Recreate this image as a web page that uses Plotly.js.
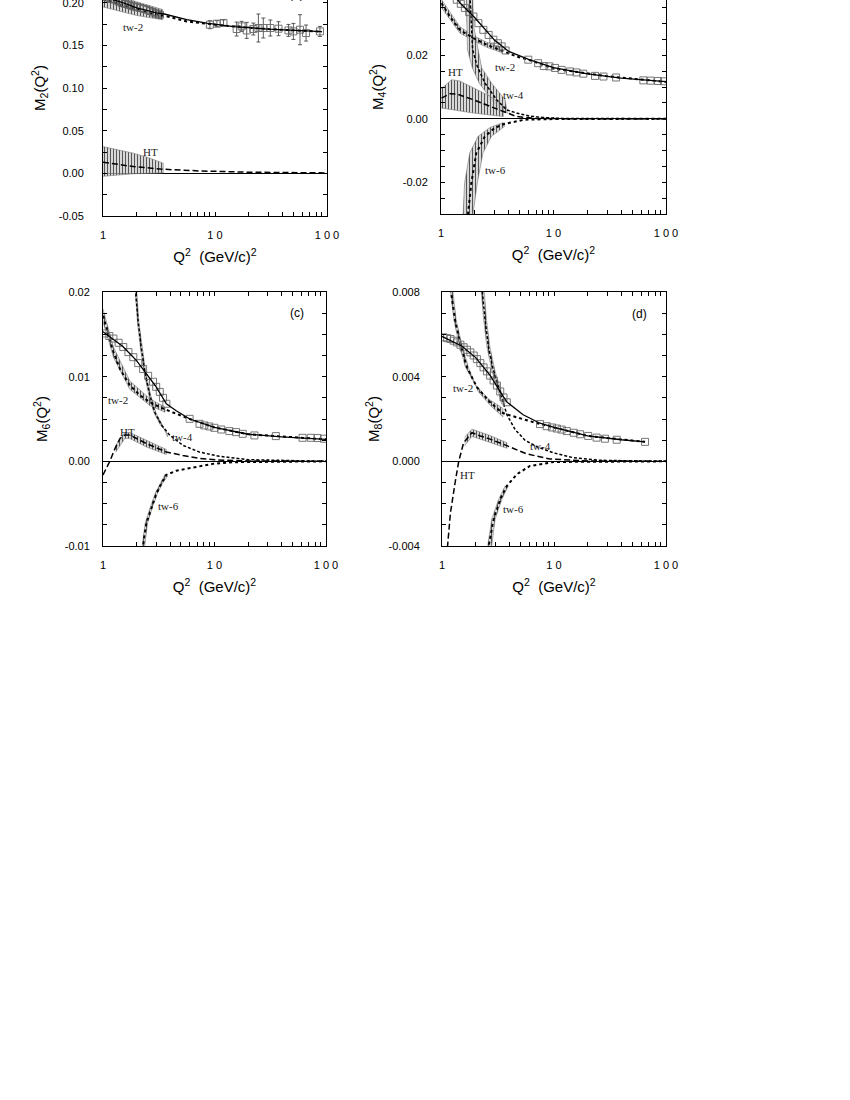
<!DOCTYPE html>
<html>
<head>
<meta charset="utf-8">
<script src="https://cdn.plot.ly/plotly-3.0.1.min.js"></script>
<style>
  html, body { margin: 0; padding: 0; background: #fff; overflow: hidden; }
  #fig { position: absolute; left: 0; top: -40px; width: 850px; height: 1140px; }
</style>
</head>
<body>
<div id="fig"></div>
<script>
// ---- axis ticks (blank text = unlabelled tick) ----
var qTicks = [1, 2, 3, 4, 5, 6, 7, 8, 9, 10, 20, 30, 40, 50, 60, 70, 80, 90, 100];
var qTickText = ['1', '', '', '', '', '', '', '', '', '1 0', '', '', '', '', '', '', '', '', '1 0 0'];
var aTicks = [-0.05, -0.025, 0, 0.025, 0.05, 0.075, 0.10, 0.125, 0.15, 0.175, 0.20, 0.225, 0.25];
var aTickText = ['-0.05', '', '0.00', '', '0.05', '', '0.10', '', '0.15', '', '0.20', '', '0.25'];
var bTicks = [-0.03, -0.025, -0.02, -0.015, -0.01, -0.005, 0, 0.005, 0.01, 0.015, 0.02, 0.025, 0.03, 0.035, 0.04, 0.045, 0.05];
var bTickText = ['', '', '-0.02', '', '', '', '0.00', '', '', '', '0.02', '', '', '', '0.04', '', ''];
var cTicks = [-0.01, -0.0075, -0.005, -0.0025, 0, 0.0025, 0.005, 0.0075, 0.01, 0.0125, 0.015, 0.0175, 0.02];
var cTickText = ['-0.01', '', '', '', '0.00', '', '', '', '0.01', '', '', '', '0.02'];
var dTicks = [-0.004, -0.003, -0.002, -0.001, 0, 0.001, 0.002, 0.003, 0.004, 0.005, 0.006, 0.007, 0.008];
var dTickText = ['-0.004', '', '', '', '0.000', '', '', '', '0.004', '', '', '', '0.008'];

// ---- panel (a): M2 ----
var aSqX = [1.1, 1.18, 1.28, 1.37, 1.47, 1.57, 1.68, 1.77, 1.87, 2.0, 2.14, 2.3, 2.45, 2.62, 2.81, 3.0, 3.23,
            9.0, 10.4, 11.9, 15.6, 17.3, 19.2, 22.0, 24.4, 27.0, 31.2, 36.9, 45.3, 50.1, 57.4, 65.0, 86.5];
var aSqY = [0.206, 0.2045, 0.2035, 0.2015, 0.1997, 0.1987, 0.1977, 0.1967, 0.1957, 0.1948, 0.1938, 0.1928, 0.1918, 0.1902, 0.1886, 0.1872, 0.1859,
            0.1742, 0.1754, 0.1762, 0.1691, 0.1722, 0.1675, 0.1691, 0.1703, 0.1703, 0.1703, 0.1695, 0.1675, 0.1663, 0.1683, 0.1644, 0.1663];
var aSqErr = [0.004, 0.004, 0.004, 0.004, 0.004, 0.004, 0.004, 0.004, 0.004, 0.004, 0.004, 0.004, 0.004, 0.004, 0.004, 0.004, 0.004,
              0.0047, 0.0035, 0.0035, 0.0082, 0.0059, 0.0094, 0.007, 0.0164, 0.0117, 0.0094, 0.0082, 0.007, 0.0094, 0.0176, 0.0094, 0.0059];
var aTotX = [1, 1.5, 2, 3, 3.45, 5.6, 8.4, 14.6, 30, 60, 90];
var aTotY = [0.207, 0.200, 0.194, 0.188, 0.187, 0.180, 0.176, 0.172, 0.169, 0.167, 0.166];
var aTw2X = [1, 1.5, 2, 3, 3.7, 5.6, 8.0, 12, 30, 90];
var aTw2Y = [0.204, 0.197, 0.192, 0.186, 0.184, 0.178, 0.1755, 0.173, 0.169, 0.166];
var aTw2BandX = [1, 2, 3.4, 3.4, 2, 1];
var aTw2BandY = [0.214, 0.201, 0.192, 0.180, 0.185, 0.195];
var aHtX = [1.0, 1.87, 3.45, 7.3, 20.5, 57, 100];
var aHtY = [0.0130, 0.0079, 0.0048, 0.0028, 0.0013, 0.0008, 0.0005];
var aHtBandX = [1.0, 1.33, 1.87, 2.63, 3.45, 3.45, 1.87, 1.0];
var aHtBandY = [0.0313, 0.0275, 0.0236, 0.0177, 0.0119, 0.0005, -0.0005, -0.0035];

// ---- panel (b): M4 ----
var bSqX = [1.38, 1.5, 1.63, 1.78, 1.94, 2.15, 2.38, 2.65, 2.92, 3.2, 3.46, 3.75,
            5.97, 7.3, 8.2, 9.2, 10.3, 11.8, 14, 16, 18.4, 23.4, 27.8, 36, 62.9, 73, 85, 96];
var bSqY = [0.0375, 0.0362, 0.0349, 0.0336, 0.0322, 0.0301, 0.0280, 0.0264, 0.0249, 0.0238, 0.0228, 0.0215,
            0.0186, 0.0175, 0.0166, 0.0165, 0.016, 0.0154, 0.0149, 0.0146, 0.0142, 0.0135, 0.0133, 0.013, 0.0121, 0.012, 0.0119, 0.0118];
var bTotX = [1.3, 1.5, 2, 3, 4, 6, 10, 20, 40, 100];
var bTotY = [0.039, 0.0362, 0.0318, 0.0247, 0.0212, 0.0187, 0.0161, 0.0141, 0.0128, 0.0117];
var bTw2X = [1.01, 1.2, 1.47, 1.94, 2.55, 3.34, 4.7, 6.2, 10, 30, 100];
var bTw2Y = [0.0364, 0.0322, 0.028, 0.0254, 0.0233, 0.0217, 0.0196, 0.0184, 0.0158, 0.0134, 0.0116];
var bTw2BandX = [1.0, 1.47, 1.94, 2.55, 3.5, 3.5, 2.55, 1.94, 1.47, 1.0];
var bTw2BandY = [0.0378, 0.0290, 0.0262, 0.0241, 0.0224, 0.0208, 0.0225, 0.0246, 0.0270, 0.0352];
var bTw4X = [1.79, 1.81, 1.85, 1.91, 2.10, 2.46, 3.12, 3.84, 4.7, 6.2, 8, 12, 100];
var bTw4Y = [0.042, 0.0375, 0.0296, 0.0217, 0.0165, 0.0112, 0.006, 0.0028, 0.0018, 0.0008, 0.0004, 0.0001, 0];
var bTw4BandX = [1.66, 1.69, 1.72, 1.9, 2.19, 2.82, 3.5, 3.9, 3.71, 2.82, 2.3, 2.14, 1.94, 1.9];
var bTw4BandY = [0.045, 0.0296, 0.0217, 0.016, 0.0112, 0.006, 0.0023, 0.0018, 0.006, 0.0112, 0.016, 0.0217, 0.0296, 0.045];
var bHtX = [1.01, 1.2, 1.38, 1.94, 2.73, 3.58, 4.7, 7, 15, 100];
var bHtY = [0.0065, 0.0079, 0.0078, 0.006, 0.0039, 0.0023, 0.0007, 0.0001, 0, 0];
var bHtBandX = [1.0, 1.245, 1.47, 1.94, 2.73, 3.58, 3.58, 1.94, 1.29, 1.0];
var bHtBandY = [0.0094, 0.0123, 0.0119, 0.0097, 0.0071, 0.0039, 0.0007, 0.0018, 0.0028, 0.0034];
var bTw6X = [1.72, 1.74, 1.86, 2.06, 2.45, 3.0, 3.68, 5.55, 10, 100];
var bTw6Y = [-0.034, -0.0297, -0.0203, -0.0108, -0.0056, -0.0029, -0.0016, -0.0003, -0.0001, 0];
var bTw6BandX = [1.55, 1.57, 1.62, 1.80, 2.13, 2.71, 3.58, 3.68, 3.33, 2.8, 2.36, 2.1, 1.93, 1.9];
var bTw6BandY = [-0.035, -0.0297, -0.0203, -0.0108, -0.0056, -0.0028, -0.0012, -0.0024, -0.0035, -0.0056, -0.0108, -0.0203, -0.0297, -0.035];

// ---- panel (c): M6 ----
var cSqX = [1.04, 1.14, 1.24, 1.38, 1.52, 1.69, 1.87, 2.07, 2.29, 2.54, 2.81, 3.0, 3.23, 3.45, 3.70,
            5.98, 7.34, 8.1, 8.98, 9.97, 11.5, 13.6, 15.6, 17.9, 22.8, 35.5, 61.6, 73, 84, 96];
var cSqY = [0.0151, 0.0148, 0.0145, 0.0140, 0.0135, 0.0129, 0.0123, 0.0116, 0.0109, 0.0101, 0.0094, 0.0088, 0.0082, 0.0075, 0.0068,
            0.00502, 0.00443, 0.00424, 0.00412, 0.00396, 0.00376, 0.00357, 0.00345, 0.00325, 0.00306, 0.00298, 0.00278, 0.00278, 0.00275, 0.00267];
var cTotX = [1.0, 1.5, 2, 3, 3.7, 4.5, 6, 10, 20, 40, 100];
var cTotY = [0.0153, 0.0136, 0.0119, 0.0088, 0.0068, 0.0060, 0.0050, 0.0040, 0.0032, 0.0029, 0.0026];
var cTw2X = [1.0, 1.12, 1.24, 1.42, 1.74, 2.14, 2.63, 3.23, 3.96, 5.0, 6.0, 10, 20, 100];
var cTw2Y = [0.0172, 0.0149, 0.0129, 0.0109, 0.0090, 0.0078, 0.0070, 0.0064, 0.0059, 0.0054, 0.0050, 0.0040, 0.0032, 0.0026];
var cTw2BandX = [1.0, 1.24, 1.74, 2.63, 3.6, 3.6, 2.63, 1.74, 1.24, 1.0];
var cTw2BandY = [0.0180, 0.0135, 0.0095, 0.0074, 0.0064, 0.0058, 0.0066, 0.0085, 0.0123, 0.0165];
var cTw4X = [1.95, 2.07, 2.21, 2.37, 2.63, 2.91, 3.34, 3.96, 5.2, 7.3, 11, 20, 100];
var cTw4Y = [0.0204, 0.0164, 0.0133, 0.0106, 0.0078, 0.0058, 0.0043, 0.0031, 0.0019, 0.0011, 0.0006, 0.0002, 0];
var cTw4BandX = [1.92, 2.04, 2.17, 2.33, 2.58, 2.85, 3.27, 3.7, 3.8, 3.41, 2.97, 2.68, 2.41, 2.25, 2.1, 1.98];
var cTw4BandY = [0.0212, 0.0164, 0.0133, 0.0106, 0.0078, 0.0058, 0.0043, 0.0035, 0.0029, 0.0043, 0.0058, 0.0078, 0.0106, 0.0133, 0.0164, 0.0212];
var cHtX = [1.0, 1.15, 1.28, 1.42, 1.57, 1.74, 2.0, 2.45, 3.01, 3.7, 5.2, 7.3, 10.7, 20, 100];
var cHtY = [-0.0016, 0, 0.0015, 0.0027, 0.0031, 0.0031, 0.0027, 0.0021, 0.0016, 0.0011, 0.0007, 0.00035, 0.00015, 0.00005, 0];
var cHtBandX = [1.3, 1.57, 1.74, 2.45, 3.7, 3.7, 2.45, 1.74, 1.57, 1.3];
var cHtBandY = [0.0019, 0.0034, 0.0034, 0.0025, 0.0014, 0.0008, 0.0017, 0.0027, 0.0027, 0.0011];
var cTw6X = [2.28, 2.32, 2.45, 2.72, 3.01, 3.34, 3.7, 4.55, 6.4, 9.65, 15, 100];
var cTw6Y = [-0.0105, -0.0093, -0.0073, -0.0054, -0.0038, -0.0026, -0.0016, -0.0011, -0.0007, -0.0003, -0.0001, 0];
var cTw6BandX = [2.22, 2.39, 2.66, 2.94, 3.27, 3.62, 3.78, 3.42, 3.08, 2.78, 2.51, 2.34];
var cTw6BandY = [-0.0105, -0.0073, -0.0054, -0.0038, -0.0026, -0.0015, -0.0018, -0.0026, -0.0038, -0.0054, -0.0073, -0.0105];

// ---- panel (d): M8 ----
var dSqX = [1.03, 1.11, 1.19, 1.27, 1.36, 1.46, 1.56, 1.67, 1.79, 1.92, 2.05, 2.2, 2.35, 2.52, 2.69, 2.89, 3.09, 3.31, 3.54, 3.79,
            7.5, 8.6, 9.6, 10.6, 11.7, 13, 15, 17.1, 20.2, 24, 28.5, 36.3, 65];
var dSqY = [0.00586, 0.00582, 0.00578, 0.0057, 0.00562, 0.00551, 0.00539, 0.00527, 0.00515, 0.005, 0.00483, 0.00464, 0.00444, 0.00425, 0.00405, 0.00382, 0.00358, 0.0033, 0.00302, 0.00279,
            0.00176, 0.00166, 0.0016, 0.00155, 0.0015, 0.00143, 0.00135, 0.00128, 0.0012, 0.00112, 0.00107, 0.00102, 0.00092];
var dTotX = [1.0, 1.5, 2.0, 2.7, 3.3, 3.8, 5.3, 7.5, 10, 20, 40, 65];
var dTotY = [0.0059, 0.00545, 0.0049, 0.00405, 0.0033, 0.0028, 0.0022, 0.0018, 0.0016, 0.0012, 0.00102, 0.00092];
var dTw2X = [1.17, 1.19, 1.31, 1.46, 1.67, 2.05, 2.69, 3.42, 3.66, 5.2, 7.5, 10, 20, 65];
var dTw2Y = [0.0087, 0.0082, 0.00665, 0.00554, 0.00444, 0.0035, 0.00279, 0.00231, 0.00224, 0.0020, 0.00176, 0.0016, 0.0012, 0.00092];
var dTw2BandX = [1.15, 1.28, 1.42, 1.62, 2.0, 2.6, 3.5, 3.5, 2.75, 2.1, 1.72, 1.5, 1.34, 1.21];
var dTw2BandY = [0.0087, 0.00665, 0.00554, 0.00444, 0.0036, 0.00295, 0.0025, 0.0021, 0.0026, 0.0033, 0.00444, 0.00554, 0.00665, 0.0087];
var dTw4X = [2.25, 2.27, 2.43, 2.6, 2.88, 3.2, 3.54, 3.8, 4.5, 5.5, 7, 9.9, 14.9, 25.7, 100];
var dTw4Y = [0.0085, 0.0082, 0.00665, 0.00539, 0.00428, 0.0035, 0.00271, 0.0022, 0.0015, 0.001, 0.0007, 0.0004, 0.00017, 0.00005, 0];
var dTw4BandX = [2.2, 2.36, 2.52, 2.79, 3.1, 3.42, 3.66, 3.3, 2.97, 2.68, 2.5, 2.34];
var dTw4BandY = [0.0085, 0.00665, 0.00539, 0.00428, 0.0035, 0.00271, 0.00271, 0.0035, 0.00428, 0.00539, 0.00665, 0.0085];
var dHtX = [1.1, 1.19, 1.31, 1.41, 1.56, 1.85, 2.2, 2.69, 3.79, 5.7, 9.2, 20, 100];
var dHtY = [-0.0045, -0.00243, -0.001, 0.0, 0.00088, 0.00135, 0.0012, 0.00105, 0.00074, 0.00035, 0.00011, 0.00002, 0];
var dHtBandX = [1.6, 1.85, 2.69, 3.79, 3.79, 2.69, 1.85, 1.6];
var dHtBandY = [0.00115, 0.00152, 0.00122, 0.00088, 0.00062, 0.0009, 0.00118, 0.00075];
var dTw6X = [2.58, 2.61, 2.89, 3.31, 3.79, 4.66, 6.1, 9.9, 100];
var dTw6Y = [-0.0045, -0.004, -0.00274, -0.0018, -0.00117, -0.00061, -0.00022, -0.00003, 0];
var dTw6BandX = [2.48, 2.78, 3.2, 3.66, 3.9, 3.42, 2.98, 2.7];
var dTw6BandY = [-0.0045, -0.00274, -0.0018, -0.00117, -0.00117, -0.0018, -0.00274, -0.0045];

// ---- page geometry (pixel positions in the 850x1100 window; figure is shifted up 40px) ----
var W = 850, H = 1140, SHIFT = 40;
function px(x) { return x / W; }
function py(y) { return 1 - (y + SHIFT) / H; }

var DOT = 'dot', HTDASH = '6px,3px', TW4DASH = '3px,2px';

function band(n, xs, ys) {
  return { type: 'scatter', mode: 'lines', x: xs, y: ys, xaxis: 'x' + n, yaxis: 'y' + n,
    fill: 'toself', fillcolor: 'rgba(170,170,170,0.7)',
    fillpattern: { shape: '|', size: 3, solidity: 0.35, fgcolor: '#555', bgcolor: 'rgba(200,200,200,0.7)' },
    line: { color: '#777', width: 0.6 }, hoverinfo: 'skip', showlegend: false };
}
function curve(n, xs, ys, dash, w) {
  return { type: 'scatter', mode: 'lines', x: xs, y: ys, xaxis: 'x' + n, yaxis: 'y' + n,
    line: { color: '#000', width: w, dash: dash }, hoverinfo: 'skip', showlegend: false };
}
function squares(n, xs, ys, err) {
  var t = { type: 'scatter', mode: 'markers', x: xs, y: ys, xaxis: 'x' + n, yaxis: 'y' + n,
    marker: { symbol: 'square-open', size: 7, color: '#666', line: { width: 0.9 } },
    hoverinfo: 'skip', showlegend: false };
  if (err) t.error_y = { type: 'data', array: err, color: '#333', thickness: 0.8, width: 2 };
  return t;
}

var traces = [
  // (a)
  band('', aTw2BandX, aTw2BandY), band('', aHtBandX, aHtBandY),
  curve('', aHtX, aHtY, HTDASH, 1.5), curve('', aTw2X, aTw2Y, DOT, 2),
  squares('', aSqX, aSqY, aSqErr), curve('', aTotX, aTotY, 'solid', 1.3),
  // (b)
  band('2', bTw2BandX, bTw2BandY), band('2', bTw4BandX, bTw4BandY), band('2', bHtBandX, bHtBandY), band('2', bTw6BandX, bTw6BandY),
  curve('2', bHtX, bHtY, HTDASH, 1.5), curve('2', bTw4X, bTw4Y, TW4DASH, 1.5),
  curve('2', bTw2X, bTw2Y, DOT, 2), curve('2', bTw6X, bTw6Y, DOT, 2),
  squares('2', bSqX, bSqY), curve('2', bTotX, bTotY, 'solid', 1.3),
  // (c)
  band('3', cTw2BandX, cTw2BandY), band('3', cTw4BandX, cTw4BandY), band('3', cHtBandX, cHtBandY), band('3', cTw6BandX, cTw6BandY),
  curve('3', cHtX, cHtY, HTDASH, 1.5), curve('3', cTw4X, cTw4Y, TW4DASH, 1.5),
  curve('3', cTw2X, cTw2Y, DOT, 2), curve('3', cTw6X, cTw6Y, DOT, 2),
  squares('3', cSqX, cSqY), curve('3', cTotX, cTotY, 'solid', 1.3),
  // (d)
  band('4', dTw2BandX, dTw2BandY), band('4', dTw4BandX, dTw4BandY), band('4', dHtBandX, dHtBandY), band('4', dTw6BandX, dTw6BandY),
  curve('4', dHtX, dHtY, HTDASH, 1.5), curve('4', dTw4X, dTw4Y, TW4DASH, 1.5),
  curve('4', dTw2X, dTw2Y, DOT, 2), curve('4', dTw6X, dTw6Y, DOT, 2),
  squares('4', dSqX, dSqY), curve('4', dTotX, dTotY, 'solid', 1.3)
];

var tickFont = { family: 'Liberation Sans, Arial, sans-serif', size: 11, color: '#000' };
var titleFont = { family: 'Liberation Sans, Arial, sans-serif', size: 15, color: '#000' };

function xAxis(left, right, anchor) {
  return { type: 'log', range: [0, 2], domain: [px(left), px(right)], anchor: anchor,
    tickmode: 'array', tickvals: qTicks, ticktext: qTickText,
    ticks: 'inside', ticklen: 4, tickwidth: 1, tickcolor: '#000', ticklabelstandoff: 9,
    showline: true, linecolor: '#000', linewidth: 1, mirror: 'ticks', showgrid: false, zeroline: false,
    tickfont: tickFont, fixedrange: true,
    title: { text: 'Q<sup>2</sup>\u00a0\u00a0(GeV/c)<sup>2</sup>', font: titleFont, standoff: 11 } };
}
function yAxis(top, bottom, anchor, range, vals, text, labelGap, label, titleGap) {
  return { range: range, domain: [py(bottom), py(top)], anchor: anchor,
    tickmode: 'array', tickvals: vals, ticktext: text,
    ticks: 'inside', ticklen: 4, tickwidth: 1, tickcolor: '#000', ticklabelstandoff: labelGap,
    showline: true, linecolor: '#000', linewidth: 1, mirror: 'ticks', showgrid: false,
    zeroline: true, zerolinecolor: '#000', zerolinewidth: 1.2,
    tickfont: tickFont, fixedrange: true,
    title: { text: label, font: titleFont, standoff: titleGap } };
}

var serif = { family: 'Liberation Serif, Times New Roman, serif', size: 11, color: '#222' };
var sans = { family: 'Liberation Sans, Arial, sans-serif', size: 12, color: '#000' };
function label(x, y, text, font) {
  return { xref: 'paper', yref: 'paper', x: px(x), y: py(y), text: text, showarrow: false,
    xanchor: 'center', yanchor: 'middle', font: font };
}

var layout = {
  width: W, height: H,
  margin: { l: 0, r: 0, t: 0, b: 0 },
  paper_bgcolor: '#fff', plot_bgcolor: '#fff',
  showlegend: false,
  xaxis: xAxis(103, 327, 'y'),
  yaxis: yAxis(-40, 216, 'x', [-0.05, 0.25], aTicks, aTickText, 16, 'M<sub>2</sub>(Q<sup>2</sup>)', 9),
  xaxis2: xAxis(441, 666, 'y2'),
  yaxis2: yAxis(-40, 214, 'x2', [-0.03, 0.05], bTicks, bTickText, 10, 'M<sub>4</sub>(Q<sup>2</sup>)', 15),
  xaxis3: xAxis(103, 326, 'y3'),
  yaxis3: yAxis(292, 546, 'x3', [-0.01, 0.02], cTicks, cTickText, 10, 'M<sub>6</sub>(Q<sup>2</sup>)', 13),
  xaxis4: xAxis(442, 666, 'y4'),
  yaxis4: yAxis(292, 546, 'x4', [-0.004, 0.008], dTicks, dTickText, 19, 'M<sub>8</sub>(Q<sup>2</sup>)', 5),
  annotations: [
    label(296, -6, '(a)', sans), label(133, 27, 'tw-2', serif), label(150, 152, 'HT', serif),
    label(640, -18, '(b)', sans), label(505, 67, 'tw-2', serif), label(455, 72, 'HT', serif),
    label(513, 95, 'tw-4', serif), label(495, 170, 'tw-6', serif),
    label(297, 313, '(c)', sans), label(118, 400, 'tw-2', serif), label(128, 432, 'HT', serif),
    label(182, 437, 'tw-4', serif), label(168, 506, 'tw-6', serif),
    label(639, 314, '(d)', sans), label(463, 388, 'tw-2', serif), label(540, 446, 'tw-4', serif),
    label(467, 475, 'HT', serif), label(513, 509, 'tw-6', serif)
  ]
};

Plotly.newPlot('fig', traces, layout, { staticPlot: true, displayModeBar: false });
</script>
</body>
</html>
